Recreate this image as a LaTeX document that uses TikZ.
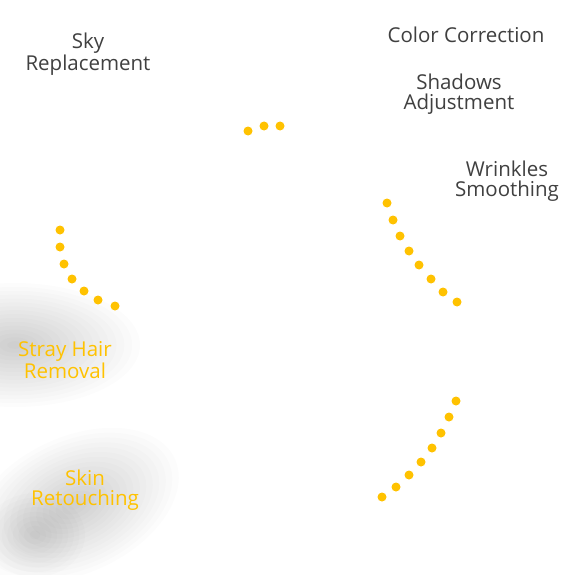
\documentclass[tikz,border=0pt]{standalone}
\usepackage{fontspec}
\setmainfont{Open Sans}
\usepackage{xcolor}
\usepackage{tikz}
\usetikzlibrary{calc}
\usetikzlibrary{positioning}
\definecolor{dotyellow}{RGB}{255,194,0}
\definecolor{txtgray}{RGB}{64,64,64}
\tikzstyle{lbl} = [draw=none, align=center, text=txtgray, font=\fontsize{20.5}{20}\selectfont, inner sep=0pt]
\tikzstyle{hot} = [lbl, text=dotyellow]
\tikzstyle{dot} = [fill=dotyellow, draw=none]
\tikzstyle{haze} = [fill=black, draw=none, opacity=0.011]

\begin{document}
\begin{tikzpicture}[x=1pt, y=-1pt]
\useasboundingbox (0,0) rectangle (575,575);
\fill[white] (0,0) rectangle (575,575);
% shadows
\foreach \k in {1,...,16} {
  \fill[haze] (15,345) ellipse ({125*\k/16} and {62*\k/16});
  \fill[haze, rotate around={25:(75,505)}] (75,505) ellipse ({110*\k/16} and {68*\k/16});
}
\foreach \k in {1,...,9}
  \fill[haze] (35,535) ellipse ({50*\k/9} and {42*\k/9});
% labels
\node [lbl] (Sky) at (88, 54) {Sky\\Replacement};
\node [lbl] (Col) at (466, 35) {Color Correction};
\node [lbl] (Sha) at (459, 94) {Shadows\\Adjustment};
\node [lbl] (Wri) at (507, 181) {Wrinkles\\Smoothing};
\node [hot] (Hair) at (65, 360) {Stray Hair\\Removal};
\node [hot] (Skin) at (85, 490) {Skin\\Retouching};
% dots
\foreach \p in {(248,131),(264,126),(280,126)}
  \fill[dot] \p circle (4.5);
\foreach \p in {(60,230),(60,247),(64,264),(72,279),(84,291),(98,300),(115,306)}
  \fill[dot] \p circle (4.5);
\foreach \p in {(387,203),(393,220),(400,236),(409,251),(419,265),(431,279),(443,292),(457,302)}
  \fill[dot] \p circle (4.5);
\foreach \p in {(456,401),(449,417),(441,433),(432,448),(421,462),(409,475),(396,487),(382,497)}
  \fill[dot] \p circle (4.5);
\end{tikzpicture}
\end{document}
